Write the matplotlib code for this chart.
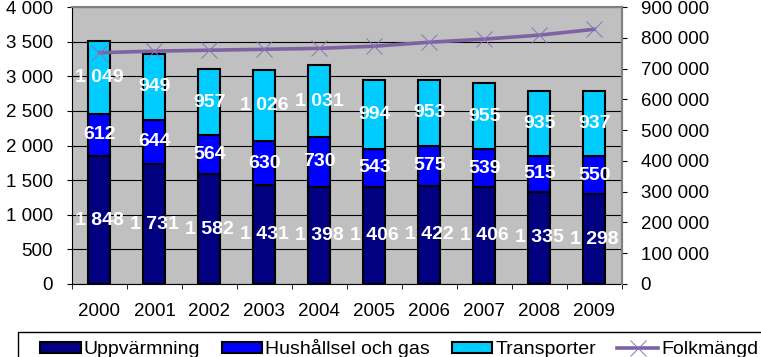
import matplotlib.pyplot as plt
import numpy as np
from matplotlib.patches import Rectangle
from matplotlib.ticker import FuncFormatter

plt.rcParams['font.family'] = ['Liberation Sans', 'DejaVu Sans']

# Data.
years = ["2000", "2001", "2002", "2003", "2004",
         "2005", "2006", "2007", "2008", "2009"]
uppvarmning = [1848, 1731, 1582, 1431, 1398, 1406, 1422, 1406, 1335, 1298]
hushallsel = [612, 644, 564, 630, 730, 543, 575, 539, 515, 550]
transporter = [1049, 949, 957, 1026, 1031, 994, 953, 955, 935, 937]
folkmangd = [752000, 757000, 760000, 763000, 766000,
             773000, 786000, 796000, 809000, 828000]


def space_thousands(v, pos=None):
    return f"{int(round(v)):,}".replace(",", " ")


fig = plt.figure(figsize=(7.61, 3.57), dpi=100)
ax = fig.add_axes([0.0946, 0.2045, 0.7224, 0.7755])
ax.set_facecolor("#C0C0C0")

x = np.arange(len(years))
w = 0.4
colors = ["#000080", "#0000FF", "#00CCFF"]
names = ["Uppvärmning", "Hushållsel och gas", "Transporter"]
series = [uppvarmning, hushallsel, transporter]

# Stacked bars with value labels in the middle of each segment.
bottom = np.zeros(len(years))
handles = []
for vals, col, name in zip(series, colors, names):
    vals = np.array(vals)
    b = ax.bar(x, vals, w, bottom=bottom, color=col, edgecolor="black",
               linewidth=1.5, label=name, zorder=3)
    handles.append(b)
    for xi, bi, vi in zip(x, bottom, vals):
        ax.text(xi, bi + vi / 2, space_thousands(vi), ha="center",
                va="center", color="white", fontsize=14, fontweight="bold",
                zorder=5)
    bottom += vals

ax.set_ylim(0, 4000)
ax.set_xlim(-0.5, len(years) - 0.5)
ax.set_yticks(np.arange(0, 4001, 500))
ax.yaxis.set_major_formatter(FuncFormatter(space_thousands))
ax.set_xticks(x)
ax.set_xticklabels(years)
ax.set_xticks(np.arange(-0.5, len(years), 1), minor=True)
ax.tick_params(axis="x", which="major", length=0, labelsize=13.5, pad=14)
ax.tick_params(axis="x", which="minor", length=3.6, direction="out")
ax.tick_params(axis="y", labelsize=13.5, length=3.6, direction="out", pad=10)
ax.grid(axis="y", color="black", linewidth=0.8, zorder=0)
for side in ["top", "right"]:
    ax.spines[side].set_color("#808080")
    ax.spines[side].set_linewidth(1.5)

# Population on the secondary axis.
ax2 = ax.twinx()
ax2.set_ylim(0, 900000)
ax2.set_yticks(np.arange(0, 900001, 100000))
ax2.yaxis.set_major_formatter(FuncFormatter(space_thousands))
ax2.tick_params(axis="y", labelsize=13.5, length=3.6, direction="out", pad=10)
line, = ax2.plot(x, folkmangd, color="#7F62A2", linewidth=2.6,
                 marker="x", markersize=12, markeredgecolor="#8A74B8",
                 markeredgewidth=0.7, label="Folkmängd", zorder=4)
ax2.spines["right"].set_color("#808080")
ax2.spines["right"].set_linewidth(1.5)
ax2.spines["top"].set_visible(False)
ax2.spines["left"].set_visible(False)
ax2.spines["bottom"].set_visible(False)

# Legend box runs off the right and bottom edge, as in the original.
fig.patches.append(Rectangle((18 / 761, -0.1), 1.0, 25 / 357 + 0.1,
                             transform=fig.transFigure, fill=False,
                             edgecolor="black", linewidth=1))
leg = fig.legend(handles + [line], names + ["Folkmängd"], loc="center left",
                 bbox_to_anchor=(40 / 761, 1 - 349 / 357), ncol=4,
                 fontsize=14, frameon=False, handlelength=2.1,
                 handleheight=0.55, handletextpad=0.15, borderpad=0,
                 columnspacing=1.1, borderaxespad=0)
for h in leg.legend_handles[:3]:
    h.set_linewidth(1.5)

fig.savefig("out.png", dpi=100)
